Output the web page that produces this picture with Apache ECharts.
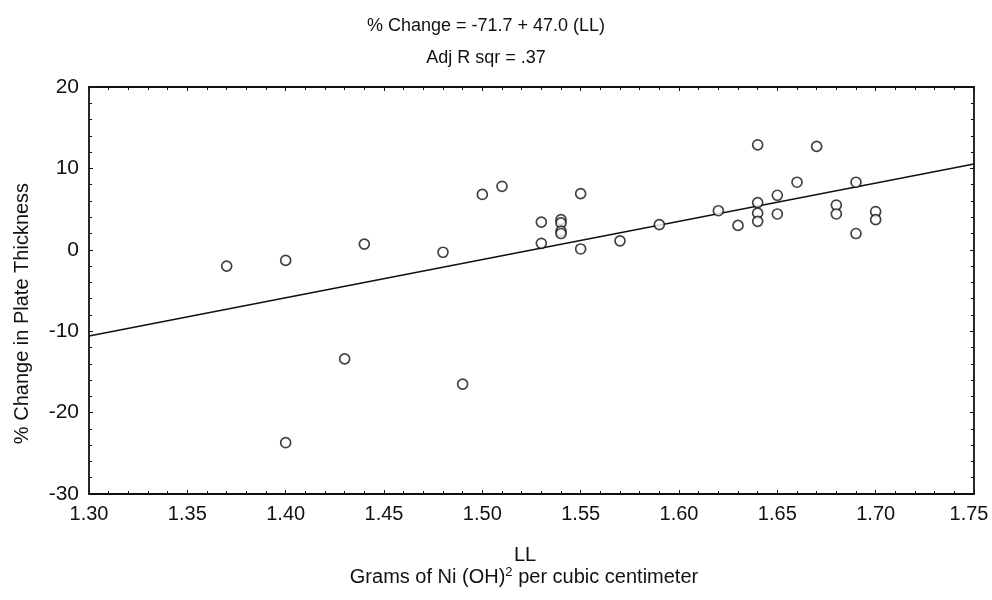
<!DOCTYPE html>
<html>
<head>
<meta charset="utf-8">
<script src="https://cdn.jsdelivr.net/npm/echarts@6/dist/echarts.min.js"></script>
<style>
  html, body { margin: 0; padding: 0; background: #fff; }
  #chart { width: 992px; height: 600px; }
</style>
</head>
<body>
<div id="chart"></div>
<script>
// measured points: LL (g/cc) vs % change in plate thickness
const llValues = [
  1.37, 1.40, 1.40, 1.43, 1.44, 1.48, 1.49, 1.50, 1.51, 1.53, 1.53,
  1.54, 1.54, 1.54, 1.54, 1.55, 1.55, 1.57, 1.59, 1.62, 1.63,
  1.64, 1.64, 1.64, 1.64, 1.65, 1.65, 1.66, 1.67, 1.68, 1.68,
  1.69, 1.69, 1.70, 1.70
]
const changeValues = [
  -2.0, -1.3, -23.7, -13.4, 0.7, -0.3, -16.5, 6.8, 7.8, 3.4, 0.8,
  3.7, 3.3, 2.3, 2.0, 6.9, 0.1, 1.1, 3.1, 4.8, 3.0,
  12.9, 5.8, 4.5, 3.5, 6.7, 4.4, 8.3, 12.7, 5.5, 4.4,
  8.3, 2.0, 4.7, 3.7
]
// fitted line end points
const fitX = [1.30, 1.75]
const fitY = [-10.6, 10.55]

const xTicks = [1.30, 1.35, 1.40, 1.45, 1.50, 1.55, 1.60, 1.65, 1.70, 1.75]
const yTicks = [-30, -20, -10, 0, 10, 20]

const font = 'Liberation Sans, Arial, sans-serif'
const black = '#111'

const scatterData = llValues.map((x, i) => [x, changeValues[i]])
const lineData = fitX.map((x, i) => [x, fitY[i]])

function boxAxis(extra) {
  return Object.assign({
    axisLine: { show: true, onZero: false, lineStyle: { color: black, width: 1.8 } },
    axisTick: { show: true, inside: true, length: 4, lineStyle: { color: black } },
    minorTick: { show: true, splitNumber: 5, length: 3, lineStyle: { color: black } },
    splitLine: { show: false },
    axisLabel: { show: false }
  }, extra)
}

const chart = echarts.init(document.getElementById('chart'))
chart.setOption({
  animation: false,
  backgroundColor: '#fff',
  title: [
    {
      text: '% Change = -71.7 + 47.0 (LL)',
      left: 481, top: 12, textAlign: 'center',
      textStyle: { fontFamily: font, fontSize: 18, fontWeight: 'normal', color: black }
    },
    {
      text: 'Adj R sqr = .37',
      left: 481, top: 44, textAlign: 'center',
      textStyle: { fontFamily: font, fontSize: 18, fontWeight: 'normal', color: black }
    },
    {
      text: 'LL',
      left: 520, top: 540, textAlign: 'center',
      textStyle: { fontFamily: font, fontSize: 20, fontWeight: 'normal', color: black }
    },
    {
      text: 'Grams of Ni (OH){sup|2} per cubic centimeter',
      left: 519, top: 561, textAlign: 'center',
      textStyle: {
        fontFamily: font, fontSize: 20, fontWeight: 'normal', color: black,
        rich: { sup: { fontFamily: font, fontSize: 13, verticalAlign: 'top', padding: [0, 0, 10, 0], color: black } }
      }
    }
  ],
  grid: { left: 89, right: 18, top: 87, bottom: 106, outerBoundsMode: 'none' },
  xAxis: [
    boxAxis({
      type: 'value', min: 1.30, max: 1.75, interval: 0.05, position: 'bottom',
      axisLabel: {
        show: true, margin: 10, fontFamily: font, fontSize: 20, color: black,
        formatter: (v) => {
          const t = xTicks.find((t) => Math.abs(t - v) < 1e-6)
          return t === 1.75 ? '{last|' + t.toFixed(2) + '}' : t.toFixed(2)
        },
        rich: { last: { fontFamily: font, fontSize: 20, color: black, padding: [0, 10, 0, 0] } }
      }
    }),
    boxAxis({ type: 'value', min: 1.30, max: 1.75, interval: 0.05, position: 'top' })
  ],
  yAxis: [
    boxAxis({
      type: 'value', min: -30, max: 20, interval: 10, position: 'left',
      name: '% Change in Plate Thickness',
      nameLocation: 'middle', nameGap: 57, nameRotate: 90,
      nameTextStyle: { fontFamily: font, fontSize: 20, color: black, padding: [0, 0, 0, -46] },
      axisLabel: {
        show: true, margin: 10, fontFamily: font, fontSize: 21, color: black,
        formatter: (v) => String(yTicks.find((t) => Math.abs(t - v) < 1e-6))
      }
    }),
    boxAxis({ type: 'value', min: -30, max: 20, interval: 10, position: 'right' })
  ],
  series: [
    {
      type: 'line',
      data: lineData,
      showSymbol: false,
      symbol: 'none',
      lineStyle: { color: black, width: 1.6 },
      z: 2
    },
    {
      type: 'scatter',
      data: scatterData,
      symbol: 'circle',
      symbolSize: 10,
      itemStyle: { color: '#fff', borderColor: black, borderWidth: 1.7 },
      z: 3
    }
  ]
})
</script>
</body>
</html>
